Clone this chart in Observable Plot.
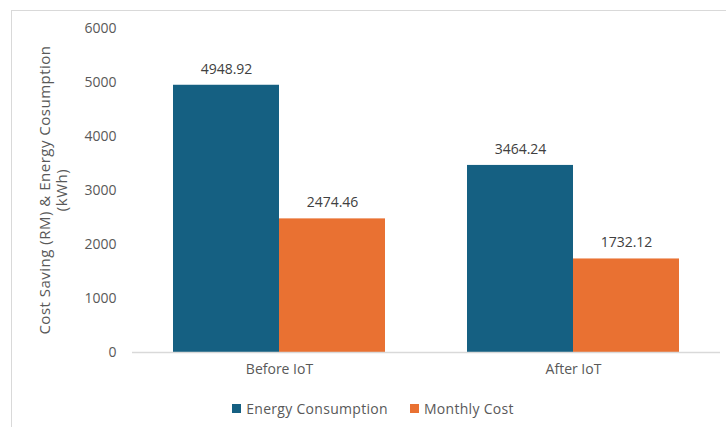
<!DOCTYPE html>
<html>
<head>
<meta charset="utf-8">
<script src="https://cdn.jsdelivr.net/npm/d3@7"></script>
<script src="https://cdn.jsdelivr.net/npm/@observablehq/plot@0.6"></script>
<style>
  html, body { margin: 0; padding: 0; background: #fff; }
  #wrap { position: relative; width: 726px; height: 427px; overflow: hidden; font-family: "Open Sans", Lato, sans-serif; color: #595959; }
  #frame { position: absolute; left: 11px; top: 10px; width: 730px; height: 430px; border: 1.5px solid #d9d9d9; box-sizing: border-box; pointer-events: none; }
  #legend { display: flex; justify-content: center; align-items: center; gap: 22px; height: 37px; font-size: 14px; letter-spacing: 0.3px; padding-left: 20px; box-sizing: border-box; }
  .item { display: flex; align-items: center; gap: 5px; }
  .sw { width: 9px; height: 9px; display: inline-block; }
  #ylabel { position: absolute; left: 53px; top: 190px; transform: translate(-50%, -50%) rotate(-90deg); white-space: nowrap; text-align: center; font-size: 15px; letter-spacing: 0.5px; line-height: 17px; }
</style>
</head>
<body>
<div id="wrap">
  <div id="chart"></div>
  <div id="legend"></div>
  <div id="ylabel"></div>
  <div id="frame"></div>
</div>
<script>
const groups = ["Before IoT", "After IoT"];
const seriesNames = ["Energy Consumption", "Monthly Cost"];
const colors = ["#156082", "#E97132"];
const energy = [4948.92, 3464.24];
const cost = [2474.46, 1732.12];
const yTicks = [0, 1000, 2000, 3000, 4000, 5000, 6000];
const yTitle = ["Cost Saving (RM) & Energy Cosumption", "(kWh)"];

const data = [];
groups.forEach((g, i) => {
  data.push({group: g, series: seriesNames[0], value: energy[i]});
  data.push({group: g, series: seriesNames[1], value: cost[i]});
});

const chart = Plot.plot({
  width: 726,
  height: 390,
  marginLeft: 131,
  marginRight: 6,
  marginTop: 28,
  marginBottom: 38,
  style: {fontFamily: "'Open Sans', Lato, sans-serif", fontSize: "13px", color: "#595959", background: "transparent"},
  fx: {domain: groups, padding: 0, label: null},
  x: {domain: seriesNames, paddingInner: 0, paddingOuter: 0.376, axis: null},
  y: {domain: [0, 6000], ticks: yTicks, label: null},
  color: {domain: seriesNames, range: colors},
  marks: [
    Plot.axisY({ticks: yTicks, tickSize: 0, tickPadding: 16, tickFormat: d => String(d), fontSize: 14, label: null}),
    Plot.axisFx({anchor: "bottom", tickSize: 0, tickPadding: 12, label: null, fontSize: 14, style: {letterSpacing: "0.4px"}}),
    Plot.barY(data, {fx: "group", x: "series", y: "value", fill: "series"}),
    Plot.ruleY([0], {stroke: "#d9d9d9", strokeWidth: 1.5}),
    Plot.text(data, {fx: "group", x: "series", y: "value", text: d => d.value.toFixed(2), dy: -16, fontSize: 14, fill: "#404040"})
  ]
});
document.getElementById("chart").appendChild(chart);

document.getElementById("ylabel").innerHTML = yTitle.join("<br>");

const legend = document.getElementById("legend");
seriesNames.forEach((s, i) => {
  const it = document.createElement("div");
  it.className = "item";
  it.innerHTML = `<span class="sw" style="background:${colors[i]}"></span><span>${s}</span>`;
  legend.appendChild(it);
});
</script>
</body>
</html>
